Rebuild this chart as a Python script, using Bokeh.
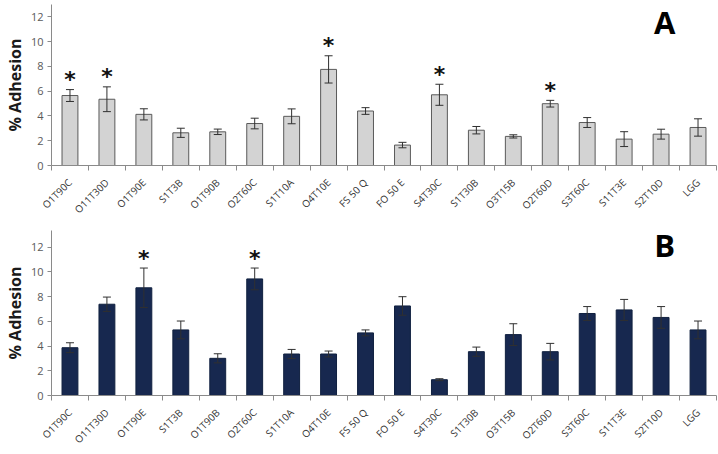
from bokeh.plotting import figure
from bokeh.models import ColumnDataSource, Whisker, FixedTicker, Label, Range1d, TeeHead
from bokeh.layouts import column
from bokeh.embed import file_html
from bokeh.resources import INLINE
from bokeh.core.properties import value

strains = ["O1T90C", "O11T30D", "O1T90E", "S1T3B", "O1T90B", "O2T60C", "S1T10A",
           "O4T10E", "FS 50 Q", "FO 50 E", "S4T30C", "S1T30B", "O3T15B", "O2T60D",
           "S3T60C", "S11T3E", "S2T10D", "LGG"]

adh_a = [5.65, 5.35, 4.13, 2.64, 2.72, 3.39, 3.97, 7.76, 4.40, 1.65, 5.71, 2.85,
         2.35, 4.99, 3.47, 2.13, 2.53, 3.07]
err_a = [0.48, 1.0, 0.45, 0.37, 0.22, 0.43, 0.6, 1.1, 0.27, 0.22, 0.85, 0.3,
         0.13, 0.27, 0.4, 0.6, 0.4, 0.7]
sig_a = [True, True, False, False, False, False, False, True, False, False, True,
         False, False, True, False, False, False, False]

adh_b = [3.87, 7.39, 8.72, 5.31, 3.01, 9.44, 3.36, 3.36, 5.07, 7.25, 1.28, 3.55,
         4.93, 3.55, 6.64, 6.93, 6.32, 5.31]
err_b = [0.4, 0.58, 1.6, 0.72, 0.37, 0.88, 0.37, 0.24, 0.24, 0.75, 0.08, 0.37,
         0.88, 0.67, 0.56, 0.85, 0.88, 0.72]
sig_b = [False, False, True, False, False, True, False, False, False, False, False,
         False, False, False, False, False, False, False]

y_ticks = [0, 2, 4, 6, 8, 10, 12]
y_label = "% Adhesion"

FONT = "Open Sans"


def make_panel(vals, errs, sig, letter, fill, line, height, b_top, b_bottom,
               y_end, letter_y):
    n = len(strains)
    xs = list(range(n))
    p = figure(width=718, height=height, output_backend="svg", toolbar_location=None,
               x_range=Range1d(-0.5, n - 0.5), y_range=Range1d(0, y_end),
               min_border_left=50, min_border_right=2, min_border_top=b_top,
               min_border_bottom=b_bottom)
    p.outline_line_color = None
    p.xgrid.visible = False
    p.ygrid.visible = False
    p.background_fill_color = "white"

    src = ColumnDataSource(dict(x=xs, top=vals,
                                upper=[v + e for v, e in zip(vals, errs)],
                                lower=[v - e for v, e in zip(vals, errs)]))
    p.vbar(x="x", top="top", bottom=0, width=0.43, source=src,
           fill_color=fill, line_color=line, line_width=1)

    w = Whisker(base="x", upper="upper", lower="lower", source=src,
                line_color="#303030", line_width=1, level="overlay",
                upper_head=TeeHead(size=8, line_color="#303030", line_width=1),
                lower_head=TeeHead(size=8, line_color="#303030", line_width=1))
    p.add_layout(w)

    sx = [x for x, s in zip(xs, sig) if s]
    sy = [v + e + 0.8 for v, e, s in zip(vals, errs, sig) if s]
    p.text(x=sx, y=sy, text=["*"] * len(sx), text_align="center",
           text_baseline="alphabetic", text_font=value("DejaVu Sans"),
           text_font_size="22px", text_font_style="bold", text_color="#111111")

    p.add_layout(Label(x=16.1, y=letter_y, text=letter, text_align="center",
                       text_baseline="middle", text_font=FONT, text_font_size="31px",
                       text_font_style="bold", text_color="#000000"))

    xa = p.xaxis[0]
    xa.ticker = FixedTicker(ticks=xs, minor_ticks=[i - 0.5 for i in range(n + 1)])
    xa.major_label_overrides = {i: s for i, s in enumerate(strains)}
    xa.major_label_orientation = 0.785
    xa.major_tick_out = 0
    xa.major_tick_in = 0
    xa.minor_tick_out = 5
    xa.minor_tick_in = 0
    xa.minor_tick_line_color = "#8a8a8a"
    xa.axis_line_color = "#8a8a8a"
    xa.major_label_standoff = 10
    xa.major_label_text_font = FONT
    xa.major_label_text_font_size = "10px"
    xa.major_label_text_color = "#333333"

    ya = p.yaxis[0]
    ya.ticker = FixedTicker(ticks=y_ticks)
    ya.major_tick_out = 4
    ya.major_tick_in = 0
    ya.minor_tick_out = 0
    ya.minor_tick_in = 0
    ya.axis_line_color = "#8a8a8a"
    ya.major_tick_line_color = "#8a8a8a"
    ya.major_label_text_font = FONT
    ya.major_label_text_font_size = "11px"
    ya.major_label_text_color = "#595959"
    ya.major_label_standoff = 4
    ya.axis_label = y_label
    ya.axis_label_text_font = FONT
    ya.axis_label_text_font_size = "16px"
    ya.axis_label_text_font_style = "bold"
    ya.axis_label_text_color = "#1a1a1a"
    ya.axis_label_standoff = 2
    return p


p1 = make_panel(adh_a, err_a, sig_a, "A", "#d3d3d3", "#5a5a5a", 224, 4, 58, 13.0, 11.55)
p2 = make_panel(adh_b, err_b, sig_b, "B", "#17284f", "#10203f", 230, 6, 57, 13.36, 12.15)

layout = column(p1, p2, spacing=0)
open("out.html", "w").write(file_html(layout, INLINE))
